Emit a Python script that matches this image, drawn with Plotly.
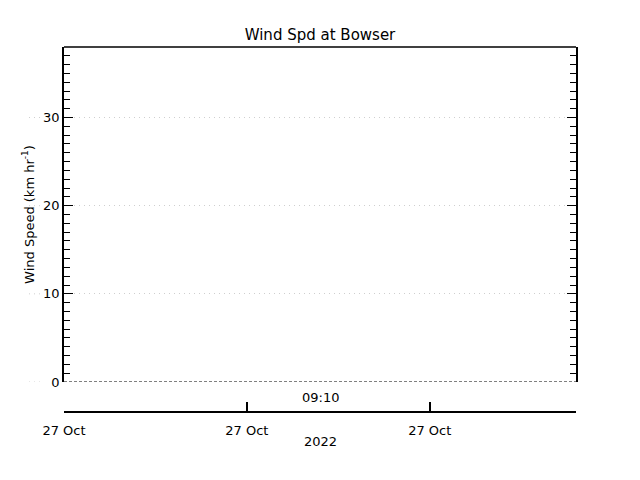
import plotly.graph_objects as go

# Data
times = ["2022-10-27 09:00:00", "2022-10-27 09:14:00"]
speeds = [0, 0]
x_range = ["2022-10-27 09:00:00", "2022-10-27 09:14:00"]
date_tickvals = ["2022-10-27 09:00:00", "2022-10-27 09:05:00", "2022-10-27 09:10:00"]
date_ticktext = ["27 Oct", "27 Oct", "27 Oct"]
y_tickvals = [0, 10, 20, 30]
y_range = [0, 38]
title = "Wind Spd at Bowser"
y_title = "Wind Speed (km hr<sup>-1</sup>)"
time_label = "09:10"
year_label = "2022"

W, H = 640, 480
OFF = 8  # page body margin
# screen-pixel targets
left_px, right_px, top_px, axis2_px, y_bottom_px = 64, 576, 47, 412, 382
L = left_px - OFF
R = W - (right_px - OFF)
T = top_px - OFF
B = H - (axis2_px - OFF)
plot_w = W - L - R
plot_h = H - T - B
dom0 = (axis2_px - y_bottom_px) / plot_h

font = dict(family="DejaVu Sans", size=13, color="black")

fig = go.Figure()
fig.add_trace(go.Scatter(x=times, y=speeds, mode="lines",
                         line=dict(color="black", width=1, dash="3px,2px"),
                         xaxis="x", yaxis="y", showlegend=False, hoverinfo="skip"))
fig.add_trace(go.Scatter(x=times, y=speeds, mode="lines",
                         line=dict(color="rgba(0,0,0,0)", width=0),
                         xaxis="x2", yaxis="y", showlegend=False, hoverinfo="skip"))

fig.update_layout(
    width=W, height=H,
    margin=dict(l=L, r=R, t=T, b=B, pad=0, autoexpand=False),
    paper_bgcolor="white", plot_bgcolor="white",
    font=font,
    title=dict(text=title, x=(320 - OFF) / W, xanchor="center",
               y=1 - (35 - OFF) / H, yanchor="middle",
               font=dict(family="DejaVu Sans", size=15, color="black")),
    xaxis=dict(range=x_range, type="date", showline=False, showgrid=False,
               zeroline=False, ticks="", showticklabels=False, anchor="y",
               automargin=False),
    xaxis2=dict(range=x_range, type="date", overlaying="x", anchor="free", position=0,
                side="bottom", showline=True, linecolor="black", linewidth=1.5,
                showgrid=False, zeroline=False, ticks="inside", ticklen=9,
                tickcolor="black", tickwidth=1.5, automargin=False,
                ticklabelstandoff=7,
                tickvals=date_tickvals, ticktext=date_ticktext, tickfont=font),
    yaxis=dict(domain=[dom0, 1], range=y_range, tickvals=y_tickvals,
               showline=True, mirror="ticks", linecolor="black", linewidth=1.5,
               ticks="inside", ticklen=9, tickcolor="black", tickwidth=1,
               showgrid=True, gridcolor="#cfcfcf", griddash="1px,4px", gridwidth=1,
               zeroline=False, tickfont=font, automargin=False,
               minor=dict(dtick=1, ticks="inside", ticklen=6, tickcolor="black",
                          showgrid=False),
               title=dict(text=y_title, font=font, standoff=6)),
    showlegend=False,
)

# top frame line
fig.add_shape(type="line", xref="paper", yref="y domain", x0=0, x1=1, y0=1, y1=1,
              line=dict(color="black", width=1.5))
# gridline extensions left of the axis
for v in y_tickvals:
    fig.add_shape(type="line", xref="paper", yref="y", x0=(29 - left_px) / plot_w,
                  x1=(42 - left_px) / plot_w, y0=v, y1=v,
                  line=dict(color="#cfcfcf", width=1, dash="1px,4px"))

fig.add_annotation(text=time_label, xref="paper", yref="paper", x=0.5,
                   y=(axis2_px - 397) / plot_h, showarrow=False, font=font,
                   xanchor="center", yanchor="middle")
fig.add_annotation(text=year_label, xref="paper", yref="paper", x=0.5,
                   y=(axis2_px - 442) / plot_h, showarrow=False, font=font,
                   xanchor="center", yanchor="middle")

fig.write_html("out.html")
